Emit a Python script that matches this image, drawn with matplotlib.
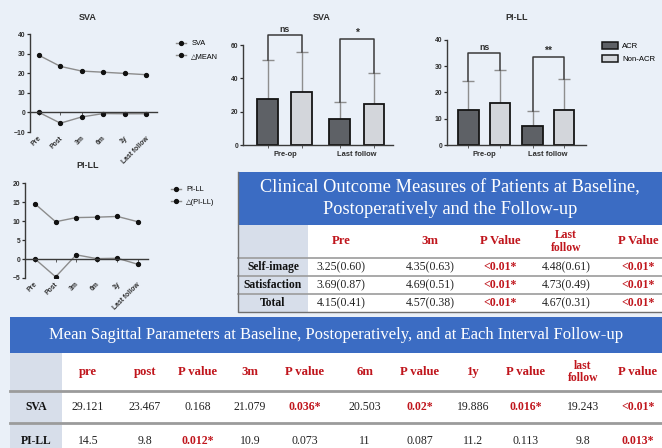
import numpy as np
import matplotlib.pyplot as plt
import matplotlib.transforms as mtrans
from matplotlib.patches import Rectangle, Patch

W, H = 662, 448
bg = '#eaf0f8'
ink = '#2e2e2e'
red = '#c0161d'
blue = '#3b6cc3'
shade = '#d7deea'
sans = ['Liberation Sans', 'DejaVu Sans']
serif = ['Liberation Serif', 'DejaVu Serif']

# line charts
stages = ['Pre', 'Post', '3m', '6m', '1y', 'Last follow']
sva_mean = [29.121, 23.467, 21.079, 20.503, 19.886, 19.243]
sva_delta = [0, -5.5, -2.3, -0.6, -0.7, -0.7]
pill_mean = [14.5, 9.8, 10.9, 11.0, 11.2, 9.8]
pill_delta = [0, -4.7, 1.1, 0.1, 0.2, -1.4]

# bar charts (ACR vs Non-ACR)
groups = ['Pre-op', 'Last follow']
sva_acr = [27.5, 15.5]
sva_acr_sd = [23.5, 10.5]
sva_non = [31.5, 24.8]
sva_non_sd = [24.0, 18.2]
sva_sig = ['ns', '*']
sva_bracket = [66, 63.5]
pill_acr = [13.4, 7.3]
pill_acr_sd = [11.0, 5.5]
pill_non = [16.0, 13.4]
pill_non_sd = [12.7, 11.9]
pill_sig = ['ns', '**']
pill_bracket = [35, 33.5]

# clinical outcome table
clin_title = 'Clinical Outcome Measures of Patients at Baseline,\nPostoperatively and the Follow-up'
clin_cols = ['Pre', '3m', 'P Value', 'Last\nfollow', 'P Value']
clin_rows = ['Self-image', 'Satisfaction', 'Total']
clin_vals = [['3.25(0.60)', '4.35(0.63)', '<0.01*', '4.48(0.61)', '<0.01*'],
             ['3.69(0.87)', '4.69(0.51)', '<0.01*', '4.73(0.49)', '<0.01*'],
             ['4.15(0.41)', '4.57(0.38)', '<0.01*', '4.67(0.31)', '<0.01*']]

# sagittal parameter table
sag_title = 'Mean Sagittal Parameters at Baseline, Postoperatively, and at Each Interval Follow-up'
sag_cols = ['pre', 'post', 'P value', '3m', 'P value', '6m', 'P value', '1y', 'P value', 'last\nfollow', 'P value']
sag_rows = ['SVA', 'PI-LL']
sag_vals = [['29.121', '23.467', '0.168', '21.079', '0.036*', '20.503', '0.02*', '19.886', '0.016*', '19.243', '<0.01*'],
            ['14.5', '9.8', '0.012*', '10.9', '0.073', '11', '0.087', '11.2', '0.113', '9.8', '0.013*']]

fig = plt.figure(figsize=(W / 100, H / 100), dpi=100, facecolor=bg)


def px_axes(l, t, r, b):
    ax = fig.add_axes([l / W, 1 - b / H, (r - l) / W, (b - t) / H])
    ax.set_facecolor('none')
    return ax


def fig_text(x, y, s, **kw):
    fig.text(x / W, 1 - y / H, s, **kw)


def style_y(ax, ticks):
    ax.set_yticks(ticks)
    ax.tick_params(axis='y', length=2.5, width=0.9, labelsize=4.9, pad=1, colors=ink)
    for lab in ax.get_yticklabels():
        lab.set_fontweight('bold')
        lab.set_family(sans)
    ax.spines[['top', 'right']].set_visible(False)
    for s in ('left', 'bottom'):
        ax.spines[s].set_color('#3a3a3a')
        ax.spines[s].set_linewidth(1.0)


def line_chart(box, xlim, ylim, ticks, mean, delta, title, title_xy, names, leg_xy):
    ax = px_axes(*box)
    x = np.arange(len(stages))
    h1, = ax.plot(x, mean, color='#8c8c8c', lw=1.0, marker='o', ms=2.8, mfc='#111', mec='#111')
    h2, = ax.plot(x, delta, color='#8c8c8c', lw=1.0, marker='o', ms=2.8, mfc='#111', mec='#111')
    ax.set_xlim(*xlim)
    ax.set_ylim(*ylim)
    style_y(ax, ticks)
    ax.spines['bottom'].set_position(('data', 0))
    ax.set_xticks(x)
    ax.set_xticklabels([])
    ax.tick_params(axis='x', length=2, width=0.6, colors='#444')
    tr = mtrans.blended_transform_factory(ax.transData, ax.transAxes)
    for i, s in enumerate(stages):
        ax.text(i + 0.2, -0.03, s, transform=tr, rotation=45, ha='right', va='top',
                fontsize=4.9, fontweight='bold', color=ink, family=sans)
    fig_text(*title_xy, title, fontsize=6.5, fontweight='bold', color=ink, family=sans,
             ha='center', va='center')
    fig.legend([h1, h2], names, loc='upper left', bbox_to_anchor=(leg_xy[0] / W, 1 - leg_xy[1] / H),
               frameon=False, prop={'family': sans, 'size': 5.3}, handlelength=1.3,
               handletextpad=0.8, labelspacing=0.75, borderaxespad=0, borderpad=0)


def bar_chart(box, xlim, ylim, ticks, off, width, acr, acr_sd, non, non_sd, sig, brk, title, title_xy):
    ax = px_axes(*box)
    g = np.arange(len(groups))
    xa, xn = g - off, g + off
    ax.errorbar(xa, acr, yerr=[np.zeros(len(g)), acr_sd], fmt='none', ecolor='#8e8e8e',
                elinewidth=1.0, capsize=4.2, capthick=1.0, zorder=1)
    ax.errorbar(xn, non, yerr=[np.zeros(len(g)), non_sd], fmt='none', ecolor='#8e8e8e',
                elinewidth=1.0, capsize=4.2, capthick=1.0, zorder=1)
    ax.bar(xa, acr, width, color='#5e6166', edgecolor='#151515', lw=1.3, zorder=2)
    ax.bar(xn, non, width, color='#d3d6db', edgecolor='#151515', lw=1.3, zorder=2)
    for i in range(len(g)):
        ya = acr[i] + acr_sd[i]
        yn = non[i] + non_sd[i]
        ax.plot([xa[i], xa[i], xn[i], xn[i]], [ya, brk[i], brk[i], yn], color='#3a3a3a',
                lw=1.1, clip_on=False, zorder=3)
        ax.text(g[i], brk[i] + (ylim[1] - ylim[0]) * 0.015, sig[i], ha='center', va='bottom',
                fontsize=6.3 if sig[i] == 'ns' else 7.5, fontweight='bold', color=ink, family=sans,
                clip_on=False)
    ax.set_xlim(*xlim)
    ax.set_ylim(*ylim)
    style_y(ax, ticks)
    ax.set_xticks(g)
    ax.set_xticklabels(groups, fontsize=5.4, fontweight='bold', color=ink, family=sans)
    ax.tick_params(axis='x', length=0, pad=4)
    ax.set_xticks(np.concatenate([xa, xn]), minor=True)
    ax.tick_params(axis='x', which='minor', length=2, width=0.6, colors='#444')
    fig_text(*title_xy, title, fontsize=6.5, fontweight='bold', color=ink, family=sans,
             ha='center', va='center')


line_chart((30, 34, 157, 132), (-0.42, 5.51), (-10, 40), [-10, 0, 10, 20, 30, 40],
           sva_mean, sva_delta, 'SVA', (88, 17), ['SVA', '\u25b3MEAN'], (176, 40))
line_chart((25, 183, 148, 278), (-0.49, 5.49), (-5, 20), [-5, 0, 5, 10, 15, 20],
           pill_mean, pill_delta, 'PI-LL', (88, 165), ['PI-LL', '\u25b3(PI-LL)'], (171, 186))

bar_chart((243, 45, 393, 145), (-0.58, 1.5), (0, 60), [0, 20, 40, 60], 0.236, 0.29,
          sva_acr, sva_acr_sd, sva_non, sva_non_sd, sva_sig, sva_bracket, 'SVA', (322, 18))
bar_chart((447, 40, 586, 145), (-0.58, 1.59), (0, 40), [0, 10, 20, 30, 40], 0.245, 0.32,
          pill_acr, pill_acr_sd, pill_non, pill_non_sd, pill_sig, pill_bracket, 'PI-LL', (517, 18))

fig.legend([Patch(facecolor='#5e6166', edgecolor='#151515', lw=1.1),
            Patch(facecolor='#d3d6db', edgecolor='#151515', lw=1.1)], ['ACR', 'Non-ACR'],
           loc='upper left', bbox_to_anchor=(602 / W, 1 - 42 / H), frameon=False,
           prop={'family': sans, 'size': 5.6}, handlelength=2.0, handleheight=1.0,
           handletextpad=0.6, labelspacing=0.6, borderaxespad=0, borderpad=0)

# tables drawn in pixel space
ov = fig.add_axes([0, 0, 1, 1], zorder=-1)
ov.set_xlim(0, W)
ov.set_ylim(H, 0)
ov.axis('off')


def table(x0, x1, band, head, rows, label_w, col_x, title, title_size, cols, row_names, vals, sep_lw):
    ov.add_patch(Rectangle((x0, band[0]), x1 - x0, band[1] - band[0], color=blue, lw=0))
    ov.text((x0 + min(x1, W)) / 2, (band[0] + band[1]) / 2, title, ha='center', va='center',
            color='white', fontsize=title_size, family=serif, linespacing=1.32)
    ov.add_patch(Rectangle((x0, head[0]), x1 - x0, rows[-1] - head[0], color='white', lw=0))
    ov.add_patch(Rectangle((x0, head[0]), label_w, rows[-1] - head[0], color=shade, lw=0))
    for c, s in zip(col_x, cols):
        ov.text(c, (head[0] + head[1]) / 2, s, ha='center', va='center', color=red,
                fontsize=9.2 if '\n' not in s else 8.4, fontweight='bold', family=serif,
                linespacing=1.1)
    edges = [head[1]] + list(rows)
    for y in edges[:-1]:
        ov.plot([x0, x1], [y, y], color='#9b9b9b', lw=sep_lw)
    for r, name in enumerate(row_names):
        yc = (edges[r] + edges[r + 1]) / 2
        ov.text(x0 + label_w / 2, yc, name, ha='center', va='center', color='#111',
                fontsize=8.4, fontweight='bold', family=serif)
        for c, s in zip(col_x, vals[r]):
            sig = '*' in s
            ov.text(c, yc, s, ha='center', va='center', color=red if sig else '#222',
                    fontsize=8.5, fontweight='bold' if sig else 'normal', family=serif)


table(238, 668, (172, 225), (225, 258), [276, 294, 312], 70,
      [341, 430, 500, 566, 638], clin_title, 13.2, clin_cols, clin_rows, clin_vals, 1.2)
ov.plot([238, 238, 668], [172, 312, 312], color='#707070', lw=1.0)

table(10, 668, (317, 353), (353, 391), [423, 458], 52,
      [88, 145, 198, 250, 305, 365, 420, 473, 526, 583, 638], sag_title, 12.0,
      sag_cols, sag_rows, sag_vals, 2.0)

fig.savefig('out.png', dpi=100, facecolor=bg)
